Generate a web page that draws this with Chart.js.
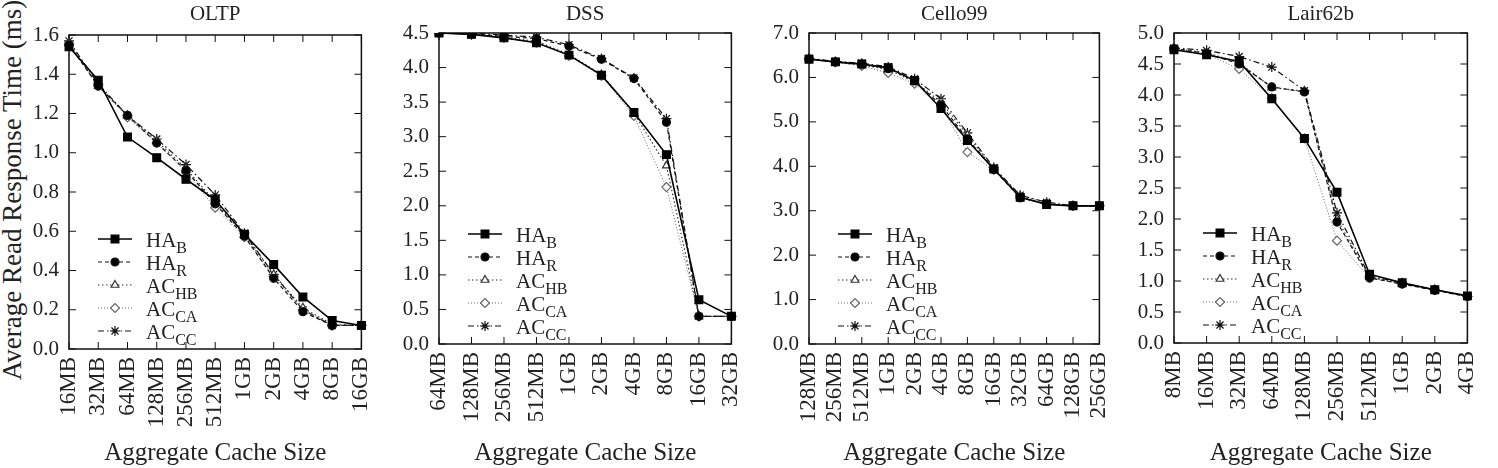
<!DOCTYPE html>
<html lang="en">
<head>
<meta charset="UTF-8">
<title>Average read response time vs aggregate cache size</title>
<script src="https://cdn.jsdelivr.net/npm/chart.js@4.4.0/dist/chart.umd.min.js"></script>
<style>
  body { margin: 0; background: #fff; }
  #wrap { position: relative; width: 1498px; height: 468px; overflow: hidden; font-family: 'Liberation Serif', serif; }
  .panel { position: absolute; top: 0; }
  #ytitle {
    position: absolute; left: 12px; top: 190px;
    transform: translate(-50%, -50%) rotate(-90deg);
    font-size: 27px; white-space: nowrap; color: #222;
  }
</style>
</head>
<body>
<div id="wrap">
  <div id="ytitle">Average Read Response Time (ms)</div>
  <canvas id="c1" class="panel"></canvas>
  <canvas id="c2" class="panel"></canvas>
  <canvas id="c3" class="panel"></canvas>
  <canvas id="c4" class="panel"></canvas>
</div>

<script>
// values (ms)
const oltpLabels = ['16MB', '32MB', '64MB', '128MB', '256MB', '512MB', '1GB', '2GB', '4GB', '8GB', '16GB'];
const oltpHAB  = [1.54, 1.37, 1.08, 0.975, 0.865, 0.76, 0.585, 0.43, 0.265, 0.145, 0.12];
const oltpHAR  = [1.55, 1.34, 1.19, 1.05, 0.91, 0.74, 0.575, 0.36, 0.19, 0.12, 0.12];
const oltpACHB = [1.56, 1.34, 1.19, 1.06, 0.92, 0.75, 0.58, 0.38, 0.21, 0.125, 0.12];
const oltpACCA = [1.55, 1.34, 1.18, 1.05, 0.90, 0.72, 0.57, 0.37, 0.20, 0.12, 0.12];
const oltpACCC = [1.57, 1.35, 1.19, 1.07, 0.94, 0.785, 0.59, 0.38, 0.20, 0.12, 0.12];

const dssLabels = ['64MB', '128MB', '256MB', '512MB', '1GB', '2GB', '4GB', '8GB', '16GB', '32GB'];
const dssHAB  = [4.50, 4.48, 4.43, 4.36, 4.18, 3.89, 3.35, 2.74, 0.64, 0.40];
const dssHAR  = [4.50, 4.49, 4.45, 4.42, 4.31, 4.12, 3.84, 3.21, 0.40, 0.40];
const dssACHB = [4.50, 4.48, 4.44, 4.38, 4.19, 3.90, 3.34, 2.58, 0.40, 0.40];
const dssACCA = [4.50, 4.48, 4.43, 4.36, 4.17, 3.88, 3.30, 2.27, 0.40, 0.40];
const dssACCC = [4.50, 4.50, 4.47, 4.44, 4.33, 4.13, 3.85, 3.26, 0.40, 0.40];

const celloLabels = ['128MB', '256MB', '512MB', '1GB', '2GB', '4GB', '8GB', '16GB', '32GB', '64GB', '128GB', '256GB'];
const celloHAB  = [6.41, 6.35, 6.30, 6.22, 5.93, 5.30, 4.58, 3.94, 3.30, 3.14, 3.11, 3.11];
const celloHAR  = [6.42, 6.35, 6.30, 6.20, 5.92, 5.38, 4.62, 3.93, 3.29, 3.15, 3.11, 3.11];
const celloACHB = [6.42, 6.34, 6.28, 6.18, 5.90, 5.45, 4.70, 3.95, 3.33, 3.17, 3.11, 3.11];
const celloACCA = [6.41, 6.34, 6.26, 6.10, 5.86, 5.35, 4.32, 3.92, 3.32, 3.16, 3.11, 3.11];
const celloACCC = [6.43, 6.36, 6.32, 6.24, 5.97, 5.52, 4.75, 3.97, 3.35, 3.19, 3.11, 3.11];

const lairLabels = ['8MB', '16MB', '32MB', '64MB', '128MB', '256MB', '512MB', '1GB', '2GB', '4GB'];
const lairHAB  = [4.73, 4.65, 4.54, 3.94, 3.30, 2.43, 1.11, 0.97, 0.86, 0.76];
const lairHAR  = [4.75, 4.67, 4.50, 4.13, 4.05, 1.95, 1.05, 0.95, 0.85, 0.75];
const lairACHB = [4.75, 4.68, 4.52, 4.12, 4.06, 2.00, 1.07, 0.96, 0.86, 0.75];
const lairACCA = [4.74, 4.66, 4.42, 3.95, 3.30, 1.65, 1.05, 0.96, 0.86, 0.75];
const lairACCC = [4.76, 4.72, 4.62, 4.45, 4.07, 2.10, 1.08, 0.97, 0.86, 0.75];

// gnuplot-like line/point styles, same order as the data arrays
const seriesStyle = [
  { name: 'HA', sub: 'B',  style: 'rect',     radius: 5.5, fill: '#000', color: '#000', dash: [],           width: 1.6 },
  { name: 'HA', sub: 'R',  style: 'circle',   radius: 4,   fill: '#000', color: '#111', dash: [4, 3],       width: 1.2 },
  { name: 'AC', sub: 'HB', style: 'triangle', radius: 4.5, fill: '#fff', color: '#333', dash: [1.5, 2.5],   width: 1.2 },
  { name: 'AC', sub: 'CA', style: 'rectRot',  radius: 4.5, fill: '#fff', color: '#666', dash: [1, 2],       width: 1 },
  { name: 'AC', sub: 'CC', style: 'star',     radius: 5,   fill: '#000', color: '#111', dash: [6, 3, 1.5, 3], width: 1.2 }
];

const panels = [
  { id: 'c1', title: 'OLTP',     labels: oltpLabels,  series: [oltpHAB, oltpHAR, oltpACHB, oltpACCA, oltpACCC],      max: 1.6, step: 0.2, left: 69,   top: 35, width: 312, bottom: 349 },
  { id: 'c2', title: 'DSS',      labels: dssLabels,   series: [dssHAB, dssHAR, dssACHB, dssACCA, dssACCC],           max: 4.5, step: 0.5, left: 439,  top: 33, width: 312, bottom: 344 },
  { id: 'c3', title: 'Cello99',  labels: celloLabels, series: [celloHAB, celloHAR, celloACHB, celloACCA, celloACCC], max: 7.0, step: 1.0, left: 809,  top: 33, width: 310, bottom: 344 },
  { id: 'c4', title: 'Lair62b',  labels: lairLabels,  series: [lairHAB, lairHAR, lairACHB, lairACCA, lairACCC],      max: 5.0, step: 0.5, left: 1174, top: 33, width: 313, bottom: 343 }
];

const FONT = "'Liberation Serif', serif";
const YAXIS_W = 65;
const RIGHT_PAD = 16;

Chart.defaults.font.family = FONT;
Chart.defaults.color = '#222';

// closed frame with inward ticks on all four sides
const frameTicks = {
  id: 'frameTicks',
  beforeDatasetsDraw(chart) {
    const { ctx, chartArea: a, scales: { x, y } } = chart;
    ctx.save();
    ctx.strokeStyle = '#111';
    ctx.lineWidth = 1.5;
    ctx.strokeRect(a.left, a.top, a.right - a.left, a.bottom - a.top);
    ctx.lineWidth = 1;
    ctx.beginPath();
    x.ticks.forEach((t, i) => {
      const px = x.getPixelForTick(i);
      ctx.moveTo(px, a.bottom); ctx.lineTo(px, a.bottom - 7);
      ctx.moveTo(px, a.top);    ctx.lineTo(px, a.top + 7);
    });
    y.ticks.forEach((t, i) => {
      const py = y.getPixelForTick(i);
      ctx.moveTo(a.left, py);  ctx.lineTo(a.left + 7, py);
      ctx.moveTo(a.right, py); ctx.lineTo(a.right - 7, py);
    });
    ctx.stroke();
    ctx.restore();
  }
};

// legend in the lower left corner, with subscripts
const subLegend = {
  id: 'subLegend',
  afterDatasetsDraw(chart) {
    const { ctx, chartArea: a } = chart;
    const drawPoint = Chart.helpers && Chart.helpers.drawPoint;
    chart.data.datasets.forEach((ds, i) => {
      const s = seriesStyle[i];
      const yy = a.bottom - 110 + 23 * i;
      const x0 = a.left + 29, x1 = a.left + 63;
      ctx.save();
      ctx.strokeStyle = s.color;
      ctx.lineWidth = s.width;
      ctx.setLineDash(s.dash);
      ctx.beginPath(); ctx.moveTo(x0, yy); ctx.lineTo(x1, yy); ctx.stroke();
      ctx.setLineDash([]);
      ctx.fillStyle = s.fill;
      ctx.lineWidth = 1.2;
      if (drawPoint) {
        drawPoint(ctx, { pointStyle: s.style, radius: s.radius, rotation: 0, borderWidth: 1.2 }, (x0 + x1) / 2, yy);
      }
      ctx.fillStyle = '#222';
      ctx.textBaseline = 'middle';
      ctx.textAlign = 'left';
      ctx.font = '21px ' + FONT;
      ctx.fillText(s.name, a.left + 77, yy + 2);
      const w = ctx.measureText(s.name).width;
      ctx.font = '16px ' + FONT;
      ctx.fillText(s.sub, a.left + 77 + w, yy + 10);
      ctx.restore();
    });
  }
};

panels.forEach(p => {
  const canvas = document.getElementById(p.id);
  canvas.width = YAXIS_W + p.width + RIGHT_PAD;
  canvas.height = 468;
  canvas.style.left = (p.left - YAXIS_W) + 'px';

  new Chart(canvas, {
    type: 'line',
    data: {
      labels: p.labels,
      datasets: p.series.map((d, i) => {
        const s = seriesStyle[i];
        return {
          label: s.name + s.sub,
          data: d,
          borderColor: s.color,
          borderWidth: s.width,
          borderDash: s.dash,
          pointStyle: s.style,
          pointRadius: s.radius,
          pointBackgroundColor: s.fill,
          pointBorderColor: s.color,
          pointBorderWidth: 1.2,
          tension: 0,
          fill: false
        };
      })
    },
    options: {
      responsive: false,
      animation: false,
      devicePixelRatio: 1,
      layout: { padding: { left: 0, right: RIGHT_PAD, top: 0, bottom: 0 } },
      plugins: {
        legend: { display: false },
        tooltip: { enabled: false },
        title: {
          display: true,
          text: p.title,
          fullSize: false,
          color: '#222',
          font: { family: FONT, size: 21, weight: 'normal', lineHeight: 1.2 },
          padding: { top: 2, bottom: p.top - 2 - 25.2 }
        }
      },
      scales: {
        x: {
          type: 'category',
          offset: false,
          grid: { display: false, drawTicks: false },
          border: { display: false },
          ticks: { autoSkip: false, minRotation: 90, maxRotation: 90, padding: 8, color: '#222', font: { size: 23 } },
          title: { display: true, text: 'Aggregate Cache Size', color: '#222', font: { size: 25 }, padding: { top: 0, bottom: 0 } },
          afterFit(s) { s.height = 468 - p.bottom; }
        },
        y: {
          min: 0,
          max: p.max,
          grid: { display: false, drawTicks: false },
          border: { display: false },
          ticks: { stepSize: p.step, padding: 10, color: '#222', font: { size: 21 }, callback: v => v.toFixed(1) },
          afterFit(s) { s.width = YAXIS_W; }
        }
      }
    },
    plugins: [frameTicks, subLegend]
  });
});
</script>
</body>
</html>
